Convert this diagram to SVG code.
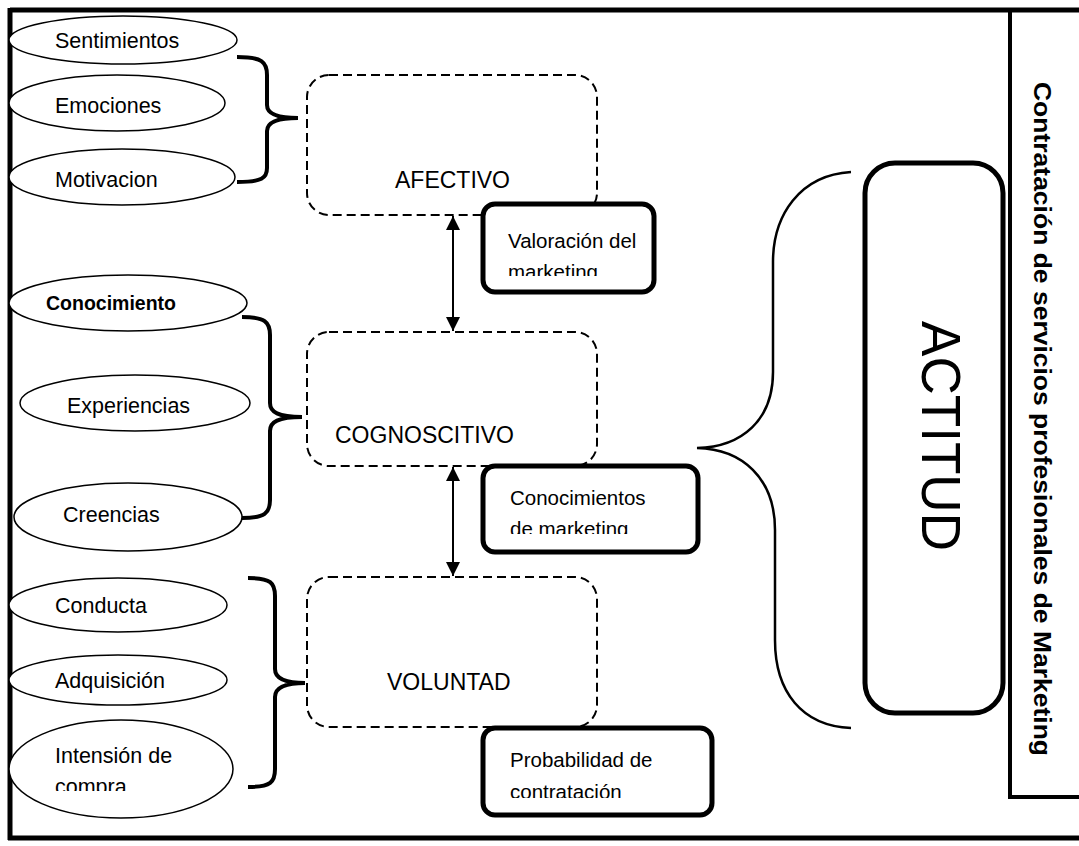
<svg xmlns="http://www.w3.org/2000/svg" width="1079" height="846" viewBox="0 0 1079 846">
<style>
.t{font-family:"Liberation Sans",Arial,sans-serif;fill:#000}
.el{fill:#fff;stroke:#000;stroke-width:1.5}
.dash{fill:none;stroke:#000;stroke-width:2;stroke-dasharray:9 5}
.thick{fill:#fff;stroke:#000;stroke-width:5}
.brace{fill:none;stroke:#000;stroke-width:4}
.frame{fill:none;stroke:#000;stroke-width:5}
</style>
<defs>
<marker id="ah" viewBox="0 0 14 14" refX="14" refY="7" markerWidth="14" markerHeight="14" markerUnits="userSpaceOnUse" orient="auto-start-reverse">
<path d="M0,0 L14,7 L0,14 Z" fill="#000"/>
</marker>
<clipPath id="c1"><rect x="485" y="205" width="168" height="71"/></clipPath>
<clipPath id="c2"><rect x="485" y="467" width="210" height="67"/></clipPath>
<clipPath id="c3"><rect x="485" y="729" width="224" height="69"/></clipPath>
<clipPath id="c4"><rect x="10" y="720" width="225" height="71"/></clipPath>
</defs>
<rect width="1079" height="846" fill="#fff"/>
<g id="frame">
<path class="frame" d="M10,10 L1079,10 M10,8 L10,840 M8,838 L1079,838"/>
<path d="M1010,10 L1010,797 L1079,797" fill="none" stroke="#000" stroke-width="4"/>
<text class="t" font-weight="bold" font-size="23" text-anchor="middle" textLength="674" lengthAdjust="spacingAndGlyphs" transform="translate(1034,419) rotate(90)">Contratación de servicios profesionales de Marketing</text>
</g>
<g id="afectivo-items">
<ellipse class="el" cx="123" cy="40" rx="114" ry="24"/>
<text class="t" x="55" y="48" font-size="21.5">Sentimientos</text>
<ellipse class="el" cx="117" cy="103" rx="108" ry="28"/>
<text class="t" x="55" y="113" font-size="21.5">Emociones</text>
<ellipse class="el" cx="122" cy="177" rx="113" ry="28"/>
<text class="t" x="55" y="187" font-size="21.5">Motivacion</text>
</g>
<g id="cognoscitivo-items">
<ellipse class="el" cx="128" cy="303" rx="119" ry="28"/>
<text class="t" x="46" y="310" font-size="19.5" font-weight="bold">Conocimiento</text>
<ellipse class="el" cx="135" cy="403" rx="115" ry="28"/>
<text class="t" x="67" y="413" font-size="21.5">Experiencias</text>
<ellipse class="el" cx="128" cy="517" rx="114" ry="34"/>
<text class="t" x="63" y="522" font-size="21.5">Creencias</text>
</g>
<g id="voluntad-items">
<ellipse class="el" cx="118" cy="605" rx="109" ry="27"/>
<text class="t" x="55" y="613" font-size="21.5">Conducta</text>
<ellipse class="el" cx="118" cy="680" rx="109" ry="25"/>
<text class="t" x="55" y="688" font-size="21.5">Adquisición</text>
<ellipse class="el" cx="121" cy="769" rx="112" ry="49"/>
<g clip-path="url(#c4)">
<text class="t" x="55" y="763" font-size="21.5">Intensión de</text>
<text class="t" x="55" y="794" font-size="21.5">compra</text>
</g>
</g>
<g id="braces">
<path class="brace" d="M237,57 C262,57 267,62 267,75 L267,105 C267,113 275,118 298,118 C275,118 267,123 267,131 L267,168 C267,178 262,182 237,182"/>
<path class="brace" d="M242,317 C265,317 270,322 270,335 L270,403 C270,412 278,417 302,417 C278,417 270,422 270,431 L270,500 C270,513 265,518 242,518"/>
<path class="brace" d="M248,578 C271,578 275,583 275,596 L275,669 C275,678 283,683 305,683 C283,683 275,688 275,697 L275,769 C275,782 271,787 248,787"/>
<path fill="none" stroke="#000" stroke-width="2.5" d="M851,172 C800,175 773,215 773,262 L773,372 C773,420 742,447 697,448 C742,449 775,478 775,530 L775,640 C775,692 802,726 851,728"/>
</g>
<g id="afectivo">
<rect class="dash" x="307" y="75" width="290" height="140" rx="22"/>
<text class="t" x="395" y="188" font-size="23">AFECTIVO</text>
</g>
<g id="cognoscitivo">
<rect class="dash" x="307" y="332" width="290" height="134" rx="22"/>
<text class="t" x="335" y="443" font-size="23">COGNOSCITIVO</text>
</g>
<g id="voluntad">
<rect class="dash" x="307" y="577" width="290" height="150" rx="22"/>
<text class="t" x="387" y="690" font-size="23">VOLUNTAD</text>
</g>
<g id="connectors">
<line x1="453" y1="216" x2="453" y2="331" stroke="#000" stroke-width="2" marker-start="url(#ah)" marker-end="url(#ah)"/>
<line x1="453" y1="467" x2="453" y2="576" stroke="#000" stroke-width="2" marker-start="url(#ah)" marker-end="url(#ah)"/>
</g>
<g id="valoracion">
<rect class="thick" x="483" y="204" width="171" height="88" rx="12"/>
<g clip-path="url(#c1)">
<text class="t" x="508" y="248" font-size="20.5">Valoración del</text>
<text class="t" x="508" y="279" font-size="20.5">marketing</text>
</g>
</g>
<g id="conocimientos">
<rect class="thick" x="483" y="466" width="215" height="86" rx="12"/>
<g clip-path="url(#c2)">
<text class="t" x="510" y="505" font-size="20.5">Conocimientos</text>
<text class="t" x="510" y="536" font-size="20.5">de marketing</text>
</g>
</g>
<g id="probabilidad">
<rect class="thick" x="483" y="728" width="229" height="87" rx="12"/>
<g clip-path="url(#c3)">
<text class="t" x="510" y="767" font-size="20.5">Probabilidad de</text>
<text class="t" x="510" y="799" font-size="20.5">contratación</text>
</g>
</g>
<g id="actitud">
<rect class="thick" x="865" y="163" width="138" height="550" rx="30"/>
<text class="t" font-size="56" text-anchor="middle" textLength="230" lengthAdjust="spacingAndGlyphs" transform="translate(922,436) rotate(90)">ACTITUD</text>
</g>
</svg>
